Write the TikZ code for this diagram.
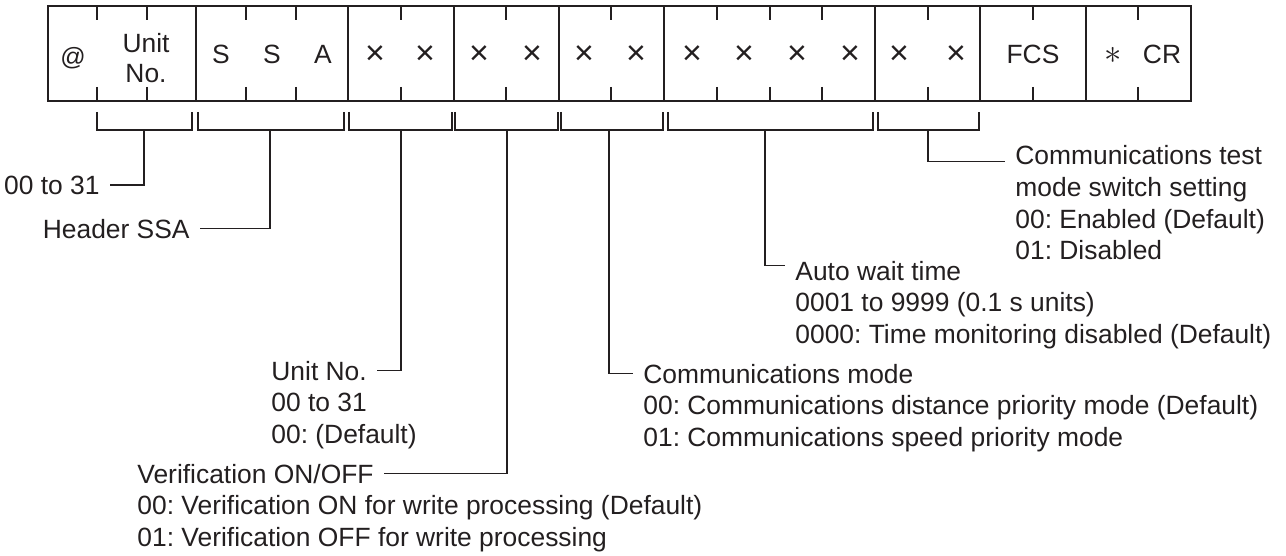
\documentclass[tikz,border=0pt]{standalone}
\usepackage{fontspec}
\setmainfont{Liberation Sans}
\usetikzlibrary{positioning}
\definecolor{ink}{RGB}{35,31,32}
\frenchspacing

\begin{document}
\begin{tikzpicture}[x=0.5pt,y=-0.5pt,color=ink,
   frame/.style={line width=1pt},
   tick/.style={line width=0.9pt},
   brace/.style={line width=0.7pt},
   lead/.style={line width=0.7pt,shorten >=5pt},
   cell/.style={inner sep=0pt,font=\fontsize{13.2}{15}\selectfont,align=center},
   xsign/.style={inner sep=0pt,font=\fontsize{17}{18}\selectfont},
   lbl/.style={inner sep=0pt,font=\fontsize{13.2}{15.75}\selectfont},
   sub/.style={below=15.75pt of #1.base west,anchor=base west}]

 \useasboundingbox (0,0) rectangle (1286,556);

 % frame, field dividers and character ticks
 \draw[frame] (48,6) rectangle (1191,101);
 \foreach \x in {196,348,454,559,664,875,980,1086}
   \draw[tick] (\x,6) -- (\x,101);
 \foreach \x in {97,147,246,296,401,506,611,717,770,822,928,1033,1138}{
   \draw[tick] (\x,6) -- (\x,20);
   \draw[tick] (\x,87) -- (\x,101);
 }

 % cell contents
 \node[cell,font=\fontsize{12.5}{14}\selectfont,anchor=base] (at) at (73,66) {@};
 \node[cell] (unit) at (146,58.5) {Unit\\No.};
 \foreach \x/\c [count=\i] in {221/S,272/S,323/A}
   \node[cell,anchor=base] (hdr\i) at (\x,64) {\c};
 \foreach \x [count=\i] in {375,425,479,532,584,636,692,744,797,850,899,956}
   \node[xsign] (d\i) at (\x,55) {×};
 \node[cell,anchor=base] (fcs) at (1033,64) {FCS};
 \node[cell,font=\fontsize{16}{18}\selectfont] (ast) at (1113,55) {$\ast$};
 \node[cell,anchor=base] (cr) at (1162,64) {CR};

 % brackets under the fields
 \foreach \a/\b/\m [count=\i] in {97/192/144,198/344/270,349/452/401,455/558/507,
     561/663/609,668/873/765,878/979/928}{
   \draw[brace] (\a,112) |- (\b,130) -- (\b,112);
   \coordinate (b\i) at (\m,130);
 }

 % descriptions
 \node[lbl,anchor=base east] (unitrange) at (100,194) {00 to 31};
 \node[lbl,anchor=base east] (header) at (190,238) {Header SSA};
 \node[lbl,anchor=base west] (unitno) at (271,380) {Unit No.};
 \node[lbl,sub=unitno] (unitno2) {00 to 31};
 \node[lbl,sub=unitno2] (unitno3) {00: (Default)};
 \node[lbl,anchor=base west] (verify) at (137,483) {Verification ON/OFF};
 \node[lbl,sub=verify] (verify2) {00: Verification ON for write processing (Default)};
 \node[lbl,sub=verify2] (verify3) {01: Verification OFF for write processing};
 \node[lbl,anchor=base west] (mode) at (643,383) {Communications mode};
 \node[lbl,sub=mode] (mode2) {00: Communications distance priority mode (Default)};
 \node[lbl,sub=mode2] (mode3) {01: Communications speed priority mode};
 \node[lbl,anchor=base west] (wait) at (795,280) {Auto wait time};
 \node[lbl,sub=wait] (wait2) {0001 to 9999 (0.1 s units)};
 \node[lbl,sub=wait2] (wait3) {0000: Time monitoring disabled (Default)};
 \node[lbl,anchor=base west] (test) at (1015,165) {Communications test};
 \node[lbl,sub=test] (test2) {mode switch setting};
 \node[lbl,sub=test2] (test3) {00: Enabled (Default)};
 \node[lbl,sub=test3] (test4) {01: Disabled};

 % leaders from brackets to descriptions
 \draw[lead] (b1) |- (unitrange);
 \draw[lead] (b2) |- (header);
 \draw[lead] (b3) |- (unitno);
 \draw[lead] (b4) |- (verify);
 \draw[lead] (b5) |- (mode);
 \draw[lead] (b6) |- ([yshift=2.5pt]wait.west);
 \draw[lead] (b7) |- ([yshift=-3pt]test.west);
\end{tikzpicture}
\end{document}
